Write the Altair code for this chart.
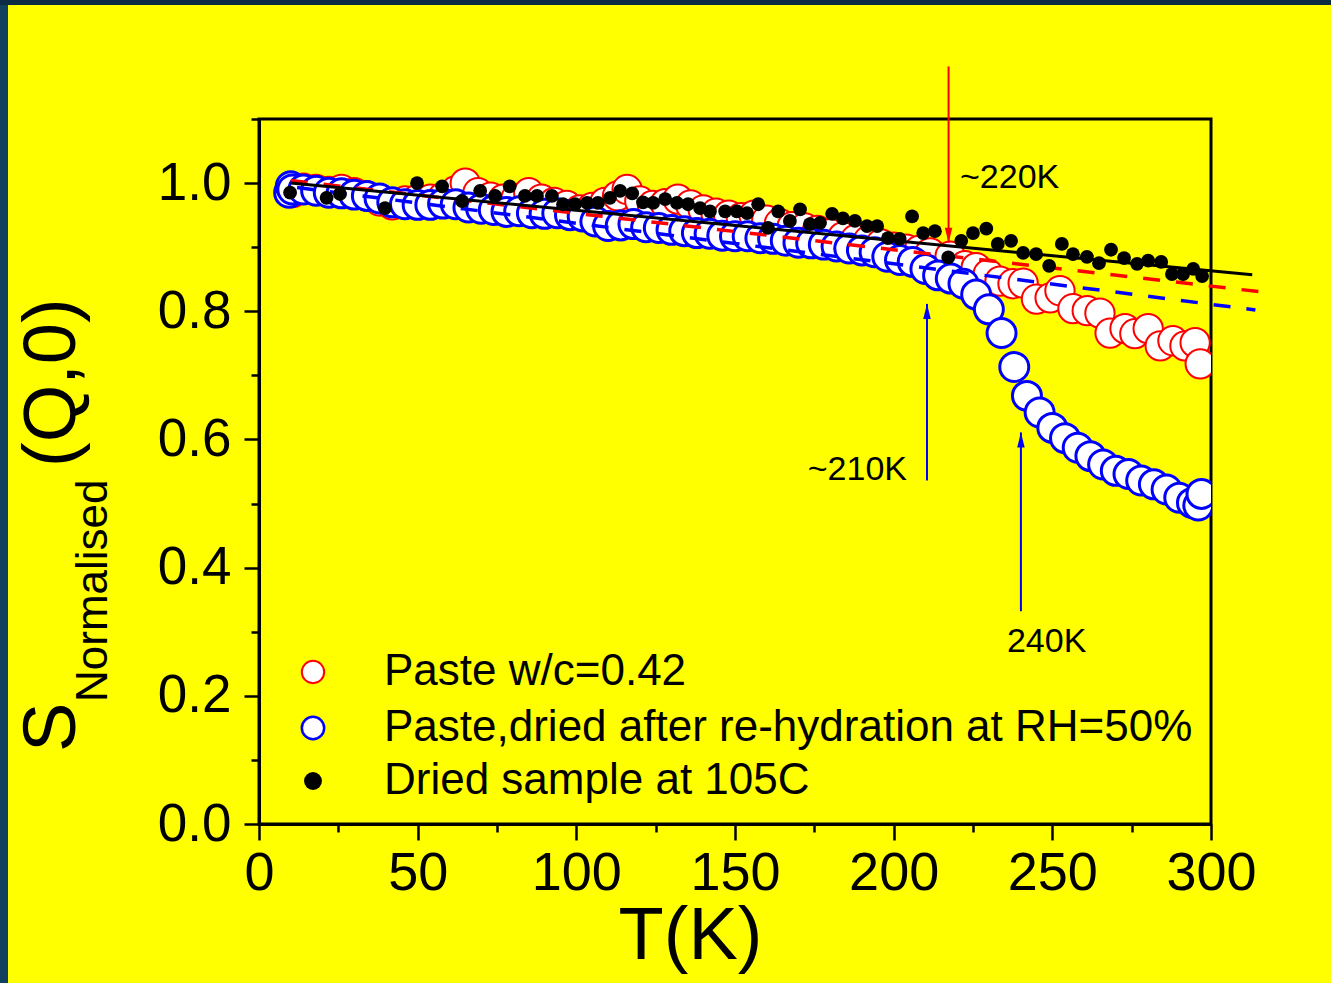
import altair as alt
import pandas as pd

FONT = "Liberation Sans"

# ---------------- data ----------------
red_T = [10, 10.5, 14, 18, 22, 26, 30, 34, 38, 42, 46, 50, 54, 58, 62, 65, 69, 73, 77, 81,
         85, 89, 93, 97, 101, 105, 109, 113, 116, 120, 124, 128, 132, 136, 140, 144, 148, 152, 156, 160,
         164, 168, 172, 176, 180, 184, 188, 192, 196, 200, 204, 208, 211.5, 217.8, 222.5, 226, 229.8, 233.5, 237.6, 240.8,
         245, 249.3, 252.4, 256.5, 261, 265, 268.2, 272.9, 276, 280.2, 284, 288, 291.8, 295, 296.6]
red_S = [0.99, 0.985, 0.992, 0.99, 0.987, 0.99, 0.985, 0.98, 0.972, 0.966, 0.972, 0.975, 0.975, 0.978, 0.988, 1.0, 0.985, 0.978, 0.975, 0.976,
         0.985, 0.975, 0.97, 0.965, 0.958, 0.962, 0.97, 0.98, 0.99, 0.972, 0.965, 0.968, 0.975, 0.966, 0.958, 0.953, 0.95, 0.946, 0.95, 0.942,
         0.937, 0.932, 0.93, 0.926, 0.921, 0.916, 0.912, 0.91, 0.905, 0.9, 0.897, 0.895, 0.891, 0.886, 0.871, 0.868, 0.858, 0.847, 0.843, 0.844,
         0.819, 0.821, 0.832, 0.804, 0.801, 0.797, 0.766, 0.773, 0.765, 0.773, 0.746, 0.754, 0.746, 0.751, 0.718]

blue_T = [9.5, 10, 10.5, 14, 18, 22, 26, 30, 34, 38, 42, 46, 50, 54, 58, 62, 66, 70, 74, 78,
          82, 86, 90, 94, 98, 102, 106, 110, 114, 118, 122, 126, 130, 134, 138, 142, 146, 150, 154, 158,
          162, 166, 170, 174, 178, 182, 186, 190, 194, 198, 202, 206, 210, 214, 218, 222, 226, 230, 234, 238,
          242, 246, 250, 254, 258, 262, 266, 270, 274, 278, 282, 286, 290, 294, 296, 297]
blue_S = [0.985, 0.995, 0.99, 0.99, 0.988, 0.985, 0.984, 0.982, 0.98, 0.976, 0.970, 0.967, 0.966, 0.966, 0.968, 0.967, 0.962, 0.960, 0.958, 0.955,
          0.956, 0.953, 0.952, 0.953, 0.950, 0.948, 0.940, 0.933, 0.934, 0.936, 0.931, 0.930, 0.927, 0.925, 0.922, 0.921, 0.918, 0.917, 0.917, 0.914,
          0.913, 0.910, 0.907, 0.906, 0.904, 0.901, 0.898, 0.895, 0.892, 0.885, 0.880, 0.877, 0.866, 0.856, 0.851, 0.843, 0.826, 0.803, 0.766, 0.713,
          0.668, 0.642, 0.618, 0.602, 0.587, 0.574, 0.561, 0.551, 0.546, 0.536, 0.530, 0.522, 0.509, 0.501, 0.497, 0.515]

dry_T = [9.8, 21.3, 25.5, 39.7, 49.8, 57.7, 64, 69.7, 74.4, 79, 83.8, 87.6, 92.3, 95.8, 99.6, 103.4, 106.8, 110.6, 113.8, 117.6,
         121, 124.2, 128, 131.7, 135.2, 139, 142.1, 146.9, 150.6, 153.8, 157.3, 160.4, 163.6, 167.3, 170.5, 173.6, 176.8, 180.6, 184, 187.8,
         191.6, 194.8, 198.2, 201.9, 205.8, 209.3, 213, 217.2, 221.3, 225, 229.2, 232.8, 237, 240.8, 244.9, 249, 253, 256.5, 260.9, 264.7,
         268.5, 272.6, 276.7, 280.2, 284.3, 287.7, 291.2, 294.4, 297.2]
dry_S = [0.985, 0.977, 0.983, 0.961, 1.0, 0.995, 0.972, 0.988, 0.980, 0.995, 0.980, 0.980, 0.980, 0.967, 0.967, 0.969, 0.969, 0.977, 0.988, 0.984,
         0.970, 0.969, 0.975, 0.969, 0.967, 0.961, 0.956, 0.956, 0.956, 0.953, 0.967, 0.930, 0.956, 0.941, 0.959, 0.936, 0.938, 0.952, 0.945, 0.941,
         0.933, 0.933, 0.914, 0.913, 0.948, 0.922, 0.925, 0.884, 0.910, 0.922, 0.929, 0.905, 0.910, 0.891, 0.889, 0.871, 0.905, 0.889, 0.885, 0.875,
         0.896, 0.883, 0.874, 0.879, 0.877, 0.858, 0.858, 0.866, 0.855]

fit_red_T = [10, 318]
fit_red_S = [1.004, 0.829]
fit_blue_T = [12, 314]
fit_blue_S = [0.993, 0.802]
fit_dry_T = [10, 313]
fit_dry_S = [1.0, 0.857]

arrow_T = [217.3, 210.5, 240.1]
arrow_S_start = [1.182, 0.536, 0.332]
arrow_S_tip = [0.907, 0.8115, 0.611]
arrow_color = ["#ff0000", "#0000ff", "#0000ff"]
arrow_dir = ["down", "up", "up"]

note_text = ["~220K", "~210K", "240K"]
note_T = [220.9, 204.2, 235.7]
note_S = [0.992, 0.536, 0.268]
note_align = ["left", "right", "left"]

legend_labels = ["Paste w/c=0.42", "Paste,dried after re-hydration at RH=50%", "Dried sample at 105C"]

x_major = [0, 50, 100, 150, 200, 250, 300]
x_minor = [25, 75, 125, 175, 225, 275]
y_major = [0.0, 0.2, 0.4, 0.6, 0.8, 1.0]
y_minor = [0.1, 0.3, 0.5, 0.7, 0.9, 1.1]

# ---------------- frames ----------------
red_df = pd.DataFrame({"T": red_T, "S": red_S})
blue_df = pd.DataFrame({"T": blue_T, "S": blue_S})
dry_df = pd.DataFrame({"T": dry_T, "S": dry_S})
fr_df = pd.DataFrame({"T": fit_red_T, "S": fit_red_S})
fb_df = pd.DataFrame({"T": fit_blue_T, "S": fit_blue_S})
fd_df = pd.DataFrame({"T": fit_dry_T, "S": fit_dry_S})
arr_df = pd.DataFrame({"T": arrow_T, "S": arrow_S_start, "S2": arrow_S_tip,
                       "c": arrow_color, "d": arrow_dir})
note_df = pd.DataFrame({"T": note_T, "S": note_S, "txt": note_text, "a": note_align})
one = pd.DataFrame({"k": [0]})

xs = alt.Scale(domain=[0, 300], nice=False, zero=False)
ys = alt.Scale(domain=[0, 1.1], nice=False, zero=False)

major_x_axis = alt.Axis(orient="bottom", values=x_major, format="d", labelFontSize=54, labelFont=FONT,
                        labelColor="black", tickSize=16, tickWidth=2.5, tickColor="black",
                        domainColor="black", domainWidth=3, labelPadding=6, grid=False,
                        labelFlush=False, labelOverlap=False,
                        title="T(K)", titleFont=FONT, titleFontSize=74, titleFontWeight="normal",
                        titleColor="black", titleX=431, titleY=134, titleBaseline="alphabetic",
                        titleAlign="center")
major_y_axis = alt.Axis(orient="left", values=y_major, format=".1f", labelFontSize=53, labelFont=FONT,
                        labelColor="black", tickSize=15, tickWidth=2.5, tickColor="black",
                        domainColor="black", domainWidth=3, labelPadding=13, grid=False,
                        labelFlush=False, labelOverlap=False, title="")
minor_x_axis = alt.Axis(orient="bottom", values=x_minor, labels=False, tickSize=8, tickWidth=2.5,
                        tickColor="black", domain=False, grid=False, title="")
minor_y_axis = alt.Axis(orient="left", values=y_minor, labels=False, tickSize=8, tickWidth=2.5,
                        tickColor="black", domain=False, grid=False, title="")

def X(axis=None):
    return alt.X("T:Q", scale=xs, axis=axis)

def Y(axis=None, field="S"):
    return alt.Y(f"{field}:Q", scale=ys, axis=axis)

red_pts = alt.Chart(red_df).mark_point(shape="circle", filled=True, fill="white", stroke="#ff0000",
                                       strokeWidth=2, size=860, opacity=1, clip=True).encode(
    x=X(major_x_axis), y=Y(major_y_axis))
blue_pts = alt.Chart(blue_df).mark_point(shape="circle", filled=True, fill="white", stroke="#0000ff",
                                         strokeWidth=3, size=840, opacity=1, clip=True).encode(
    x=X(minor_x_axis), y=Y(minor_y_axis))
red_fit = alt.Chart(fr_df).mark_line(color="#ff0000", strokeWidth=3.5, strokeDash=[17, 16]).encode(x=X(), y=Y())
blue_fit = alt.Chart(fb_df).mark_line(color="#0000ff", strokeWidth=3.5, strokeDash=[17, 16]).encode(x=X(), y=Y())
dry_fit = alt.Chart(fd_df).mark_line(color="black", strokeWidth=3).encode(x=X(), y=Y())
dry_pts = alt.Chart(dry_df).mark_point(shape="circle", filled=True, color="black", size=190, opacity=1).encode(
    x=X(), y=Y())

arrows = alt.Chart(arr_df).mark_rule(strokeWidth=2).encode(
    x=X(), y=Y(), y2="S2:Q", color=alt.Color("c:N", scale=None))
heads_down = alt.Chart(arr_df).transform_filter(alt.datum.d == "down").mark_point(
    shape="M0,0L-0.25,-1L0.25,-1Z", filled=True, size=900, opacity=1).encode(
    x=X(), y=Y(field="S2"), color=alt.Color("c:N", scale=None))
heads_up = alt.Chart(arr_df).transform_filter(alt.datum.d == "up").mark_point(
    shape="M0,0L-0.25,1L0.25,1Z", filled=True, size=900, opacity=1).encode(
    x=X(), y=Y(field="S2"), color=alt.Color("c:N", scale=None))

notes_l = alt.Chart(note_df).transform_filter(alt.datum.a == "left").mark_text(
    font=FONT, fontSize=34, color="black", align="left", baseline="alphabetic").encode(
    x=X(), y=Y(), text="txt:N")
notes_r = alt.Chart(note_df).transform_filter(alt.datum.a == "right").mark_text(
    font=FONT, fontSize=34, color="black", align="right", baseline="alphabetic").encode(
    x=X(), y=Y(), text="txt:N")

# legend (manual, inside plot, pixel offsets from plot origin)
leg_y = [553, 609, 662]
leg_sym1 = alt.Chart(one).mark_point(shape="circle", filled=True, fill="white", stroke="#ff0000",
                                     strokeWidth=2, size=500, opacity=1).encode(
    x=alt.value(54), y=alt.value(leg_y[0]))
leg_sym2 = alt.Chart(one).mark_point(shape="circle", filled=True, fill="white", stroke="#0000ff",
                                     strokeWidth=2.5, size=500, opacity=1).encode(
    x=alt.value(54), y=alt.value(leg_y[1]))
leg_sym3 = alt.Chart(one).mark_point(shape="circle", filled=True, color="black", size=320, opacity=1).encode(
    x=alt.value(54), y=alt.value(leg_y[2]))
leg_txt = [alt.Chart(one).mark_text(text=legend_labels[i], font=FONT, fontSize=44, color="black",
                                    align="left", baseline="middle").encode(
    x=alt.value(125), y=alt.value(leg_y[i])) for i in range(3)]

# y-axis title with subscript
yt_S = alt.Chart(one).mark_text(text="S", font=FONT, fontSize=74, color="black", angle=270,
                                align="left", baseline="alphabetic").encode(
    x=alt.value(-184), y=alt.value(633))
yt_sub = alt.Chart(one).mark_text(text="Normalised", font=FONT, fontSize=44, color="black", angle=270,
                                  align="left", baseline="alphabetic").encode(
    x=alt.value(-152), y=alt.value(583))
yt_Q = alt.Chart(one).mark_text(text="(Q,0)", font=FONT, fontSize=74, color="black", angle=270,
                                align="left", baseline="alphabetic").encode(
    x=alt.value(-184), y=alt.value(348))

# dark frame strips at left/top of page
strip_left = alt.Chart(one).mark_rect(color="#12405f").encode(
    x=alt.value(-259), x2=alt.value(-251), y=alt.value(-119), y2=alt.value(864))
strip_top = alt.Chart(one).mark_rect(color="#0c2c45").encode(
    x=alt.value(-259), x2=alt.value(1072), y=alt.value(-119), y2=alt.value(-114))

chart = alt.layer(
    strip_left, strip_top,
    red_pts, blue_pts, red_fit, blue_fit, dry_fit, dry_pts,
    arrows, heads_down, heads_up, notes_l, notes_r,
    leg_sym1, leg_sym2, leg_sym3, *leg_txt,
    yt_S, yt_sub, yt_Q,
).resolve_axis(x="independent", y="independent").properties(
    width=952, height=705,
    autosize=alt.AutoSizeParams(type="none"),
    padding={"left": 259, "top": 119, "right": 120, "bottom": 159},
    background="#ffff00",
).configure_view(stroke="black", strokeWidth=3, fill="#ffff00")

chart.save("out.html", embed_options={"renderer": "svg", "actions": False})
